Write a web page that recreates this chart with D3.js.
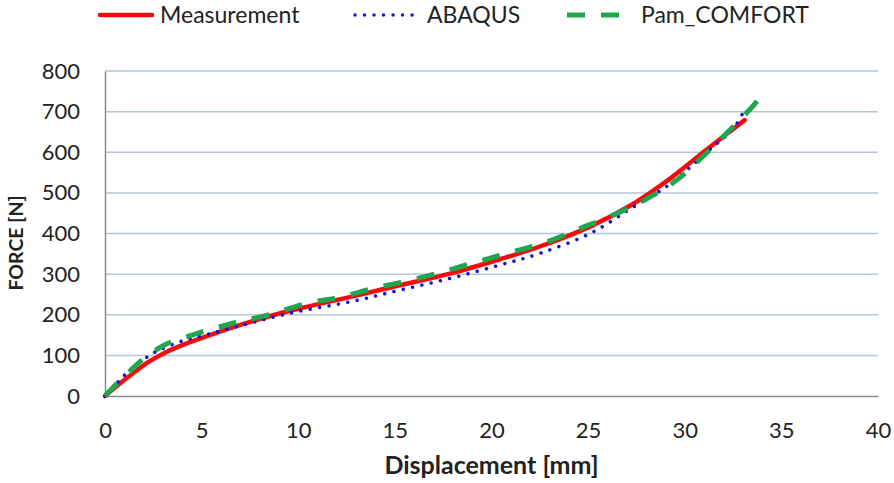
<!DOCTYPE html>
<html>
<head>
<meta charset="utf-8">
<script src="https://cdn.jsdelivr.net/npm/d3@7"></script>
<style>
  html, body { margin: 0; padding: 0; background: #fff; }
  #container { width: 894px; height: 483px; }
  text { font-family: Lato, "Open Sans", sans-serif; fill: #222; }
</style>
</head>
<body>
<div id="container"></div>
<script>
// values
const measDisp  = [0, 0.8, 1.5, 2.3, 3.2, 4.1, 4.9, 6.6, 8.4, 10.1, 12.7, 15.3, 17.9, 20.4, 22.5, 25.1, 27.3, 29.1, 30.8, 32.2, 33.1];
const measForce = [0, 32, 58, 85, 109, 127, 141, 169, 195, 216, 244, 273, 302, 336, 368, 417, 472, 530, 594, 646, 679];

const abaqusDisp  = [0, 0.8, 1.2, 2.4, 2.9, 3.9, 5.4, 7.5, 9.6, 12.7, 15.3, 17.9, 20.4, 22.5, 25.1, 27.3, 29.1, 30.3, 31.5, 32.0, 32.7, 33.0];
const abaqusForce = [0, 41, 60, 103, 115, 134, 153, 179, 204, 232, 261, 290, 322, 351, 400, 464, 517, 564, 615, 634, 671, 696];

const pamDisp  = [0, 0.5, 1.1, 1.8, 3.1, 4.7, 6.6, 8.4, 10.6, 12.2, 13.9, 15.7, 17.5, 19.3, 21.1, 22.9, 24.6, 26.1, 27.9, 29.6, 31.1, 32.5, 33.5, 33.9];
const pamForce = [0, 25, 52, 84, 126, 153, 179, 199, 230, 243, 265, 284, 306, 331, 355, 380, 413, 441, 482, 532, 597, 663, 712, 735];

const xTicks = [0, 5, 10, 15, 20, 25, 30, 35, 40];
const yTicks = [0, 100, 200, 300, 400, 500, 600, 700, 800];

const width = 894, height = 483;
const margin = { left: 105, right: 16, top: 71, bottom: 87 };

const svg = d3.select("#container")
    .append("svg")
    .attr("width", width)
    .attr("height", height);

const x = d3.scaleLinear().domain([0, 40]).range([margin.left, width - margin.right]);
const y = d3.scaleLinear().domain([0, 800]).range([height - margin.bottom, margin.top]);

// gridlines
svg.append("g")
    .selectAll("line")
    .data(yTicks.filter(d => d > 0))
    .join("line")
    .attr("x1", x(0))
    .attr("x2", x(40))
    .attr("y1", d => y(d))
    .attr("y2", d => y(d))
    .attr("stroke", "#b8c5dd")
    .attr("stroke-width", 1.5);

// axes
const yAxis = svg.append("g")
    .attr("transform", `translate(${x(0)},0)`)
    .call(d3.axisLeft(y).tickValues(yTicks).tickSize(0).tickPadding(25));
const xAxis = svg.append("g")
    .attr("transform", `translate(0,${y(0)})`)
    .call(d3.axisBottom(x).tickValues(xTicks).tickSize(0).tickPadding(26));

[xAxis, yAxis].forEach(a => {
    a.select(".domain").attr("stroke", "#8c8c8c").attr("stroke-width", 1.5);
    a.selectAll("text").style("font-size", "22px").attr("fill", "#222");
});

svg.append("text")
    .attr("x", (x(0) + x(40)) / 2)
    .attr("y", 474)
    .attr("text-anchor", "middle")
    .style("font-size", "25px")
    .style("font-weight", "bold")
    .text("Displacement [mm]");

svg.append("text")
    .attr("transform", "translate(23,243) rotate(-90)")
    .attr("text-anchor", "middle")
    .style("font-size", "19.5px")
    .style("font-weight", "bold")
    .text("FORCE [N]");

// series
const series = [
    { name: "Measurement", xs: measDisp, ys: measForce, color: "#f20d0d", w: 4.5, dash: null, cap: "round" },
    { name: "ABAQUS", xs: abaqusDisp, ys: abaqusForce, color: "#1414d8", w: 3.5, dash: "0.01 9.5", cap: "round" },
    { name: "Pam_COMFORT", xs: pamDisp, ys: pamForce, color: "#1fa64f", w: 5, dash: "18 16", cap: "butt" }
];

const line = d3.line()
    .x(d => x(d[0]))
    .y(d => y(d[1]))
    .curve(d3.curveCatmullRom.alpha(0.5));

svg.append("g")
    .selectAll("path")
    .data(series)
    .join("path")
    .attr("d", s => line(s.xs.map((v, i) => [v, s.ys[i]])))
    .attr("fill", "none")
    .attr("stroke", s => s.color)
    .attr("stroke-width", s => s.w)
    .attr("stroke-dasharray", s => s.dash)
    .attr("stroke-linecap", s => s.cap);

// legend
const legendPos = [
    { x1: 100, x2: 152, tx: 160 },
    { x1: 355, x2: 418, tx: 427 },
    { x1: 567, x2: 625, tx: 641 }
];

const legend = svg.append("g")
    .selectAll("g")
    .data(series)
    .join("g");

legend.append("line")
    .attr("x1", (d, i) => legendPos[i].x1)
    .attr("x2", (d, i) => legendPos[i].x2)
    .attr("y1", 15)
    .attr("y2", 15)
    .attr("stroke", d => d.color)
    .attr("stroke-width", d => d.w)
    .attr("stroke-dasharray", d => d.dash)
    .attr("stroke-linecap", d => d.cap);

legend.append("text")
    .attr("x", (d, i) => legendPos[i].tx)
    .attr("y", 15)
    .attr("dy", "0.35em")
    .style("font-size", "23px")
    .text(d => d.name);
</script>
</body>
</html>
